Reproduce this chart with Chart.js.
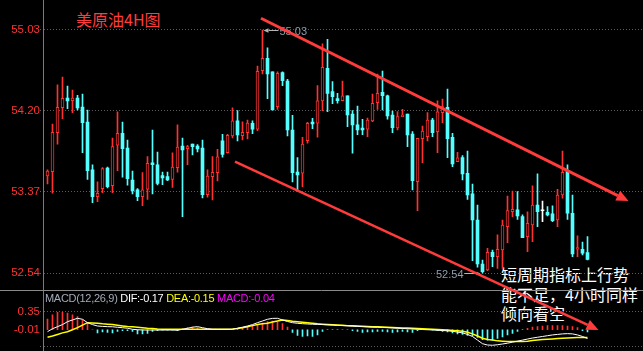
<!DOCTYPE html>
<html>
<head>
<meta charset="utf-8">
<script src="https://cdn.jsdelivr.net/npm/chart.js@4.4.1/dist/chart.umd.min.js"></script>
<style>
  html, body { margin: 0; padding: 0; background: #000; }
  #wrap { position: relative; width: 643px; height: 351px; overflow: hidden; background: #000; }
  #chart { position: absolute; left: 0; top: 0; z-index: 2; }
  .txt { position: absolute; z-index: 1; white-space: nowrap; }
  #title { left: 76px; top: 11px; font: 16px/16px "Noto Sans CJK SC", sans-serif; color: #ff3c3c; }
  #note { left: 501px; top: 265px; font: 16px/19.5px "Noto Sans CJK SC", sans-serif; color: #fff; }
  #macdHead { left: 45px; top: 292.5px; font: 11px/11px "Liberation Sans", Arial, sans-serif; letter-spacing: -0.3px; z-index: 3; }
</style>
</head>
<body>
<div id="wrap">
  <div class="txt" id="title">美原油4H图</div>
  <div class="txt" id="note">短周期指标上行势<br>能不足，4小时同样<br>倾向看空</div>
  <div class="txt" id="macdHead"></div>
  <canvas id="chart" width="643" height="351"></canvas>
</div>
<script>
// 4H candles (oldest first)
const opens = [53.535, 53.578, 53.978, 54.234, 54.333, 54.306, 54.333, 54.241, 54.087, 53.596,
  53.322, 53.404, 53.616, 53.435, 53.849, 53.972, 53.821, 53.493, 53.391, 53.322,
  53.398, 53.67, 53.647, 53.537, 53.527, 53.5, 53.619, 53.841, 53.814, 53.862,
  53.841, 53.821, 53.343, 53.527, 53.568, 53.893, 53.773, 53.944, 54.098, 53.947,
  53.978, 54.074, 54.013, 54.613, 54.74, 54.6, 54.244, 54.593, 54.507, 54.005,
  53.575, 53.562, 53.896, 54.087, 54.074, 54.303, 54.638, 54.398, 54.326, 54.306,
  54.354, 54.169, 54.057, 54.026, 54.013, 54.098, 54.285, 54.392, 54.354, 54.159,
  54.026, 54.142, 54.169, 53.964, 53.476, 53.916, 53.937, 54.108, 53.988, 54.183,
  54.238, 53.931, 53.681, 53.722, 53.562, 53.35, 53.083, 52.632, 52.571, 52.752,
  52.707, 52.776, 53.015, 53.168, 53.186, 53.117, 52.912, 53.032, 53.237, 53.178,
  53.162, 53.145, 53.083, 53.339, 53.588, 53.152, 52.783, 52.783, 52.748];
const highs = [53.596, 54.067, 54.467, 54.548, 54.456, 54.415, 54.361, 54.374, 54.21, 53.647,
  53.473, 53.619, 53.626, 53.923, 54.19, 54.087, 53.903, 53.585, 53.404, 53.568,
  53.732, 54.005, 53.78, 53.575, 53.575, 53.77, 54.057, 53.923, 53.849, 53.862,
  53.855, 53.903, 53.596, 53.732, 53.808, 53.96, 53.961, 54.231, 54.203, 54.09,
  54.108, 54.098, 54.661, 55.03, 54.846, 54.6, 54.6, 54.6, 54.525, 54.156,
  53.722, 53.931, 54.084, 54.125, 54.459, 54.887, 54.935, 54.5, 54.381, 54.507,
  54.354, 54.203, 54.251, 54.115, 54.128, 54.374, 54.579, 54.61, 54.364, 54.2,
  54.193, 54.217, 54.169, 53.988, 53.92, 54.046, 54.183, 54.125, 54.303, 54.323,
  54.425, 53.971, 53.777, 53.742, 53.79, 53.452, 53.237, 52.673, 52.793, 52.776,
  52.93, 53.083, 53.329, 53.38, 53.373, 53.135, 53.168, 53.432, 53.555, 53.278,
  53.22, 53.227, 53.398, 53.79, 53.647, 53.339, 52.92, 52.858, 52.912];
const lows = [53.452, 53.357, 53.859, 54.121, 54.224, 54.183, 54.21, 53.773, 53.5, 53.26,
  53.271, 53.363, 53.411, 53.363, 53.588, 53.521, 53.439, 53.35, 53.281, 53.23,
  53.295, 53.35, 53.442, 53.445, 53.486, 53.418, 53.572, 53.117, 53.65, 53.749,
  53.78, 53.309, 53.316, 53.288, 53.483, 53.726, 53.767, 53.923, 53.893, 53.903,
  53.913, 53.967, 53.998, 54.579, 54.326, 54.21, 54.217, 54.459, 53.944, 53.473,
  53.391, 53.424, 53.869, 54.019, 53.931, 54.203, 54.193, 54.275, 54.279, 54.306,
  54.039, 53.767, 53.957, 53.957, 53.937, 54.09, 54.217, 54.21, 54.115, 53.978,
  54.005, 54.142, 53.834, 53.391, 53.179, 53.67, 53.893, 53.937, 53.773, 54.08,
  53.722, 53.63, 53.681, 53.493, 53.295, 52.666, 52.599, 52.54, 52.564, 52.605,
  52.588, 52.588, 52.851, 53.117, 53.09, 52.902, 52.758, 52.861, 53.015, 53.066,
  53.124, 53.066, 53.015, 53.306, 53.09, 52.707, 52.707, 52.725, 52.673];
const closes = [53.585, 53.98, 54.238, 54.33, 54.303, 54.333, 54.231, 54.08, 53.588, 53.322,
  53.357, 53.609, 53.424, 53.834, 53.972, 53.814, 53.506, 53.383, 53.322, 53.391,
  53.664, 53.65, 53.459, 53.514, 53.493, 53.626, 53.831, 53.8, 53.834, 53.834,
  53.81, 53.343, 53.534, 53.572, 53.729, 53.756, 53.951, 54.098, 53.954, 53.982,
  54.077, 54.013, 54.607, 54.74, 54.579, 54.21, 54.586, 54.511, 54.005, 53.568,
  53.544, 53.862, 54.074, 54.067, 54.303, 54.648, 54.381, 54.347, 54.306, 54.354,
  54.159, 54.057, 54.005, 54.005, 54.108, 54.279, 54.381, 54.357, 54.149, 54.029,
  54.142, 54.159, 53.954, 53.486, 53.92, 53.995, 54.108, 53.978, 54.19, 54.244,
  53.916, 53.657, 53.719, 53.555, 53.339, 53.083, 52.632, 52.554, 52.752, 52.707,
  52.783, 53.032, 53.179, 53.193, 53.124, 52.902, 53.05, 53.237, 53.168, 53.178,
  53.134, 53.076, 53.339, 53.572, 53.152, 52.735, 52.8, 52.742, 52.68];

// MACD(12,26,9) panel
const difValues = [-0.037, 0.02, 0.06, 0.10, 0.156, 0.19, 0.222, 0.203, 0.137, 0.10,
  0.073, 0.065, 0.06, 0.058, 0.048, 0.04, 0.03, 0.009, 0.0, -0.004,
  -0.005, -0.005, -0.005, -0.005, -0.005, -0.005, -0.01, 0.01, 0.029, 0.05,
  0.06, 0.04, 0.021, 0.01, 0.009, 0.009, 0.009, 0.009, 0.03, 0.05,
  0.073, 0.10, 0.137, 0.17, 0.203, 0.22, 0.222, 0.189, 0.16, 0.137,
  0.125, 0.118, 0.112, 0.107, 0.104, 0.10, 0.095, 0.09, 0.085, 0.08,
  0.075, 0.07, 0.065, 0.06, 0.055, 0.05, 0.048, 0.045, 0.04, 0.035,
  0.03, 0.025, 0.02, 0.015, 0.01, 0.005, 0.0, -0.004, -0.01, -0.015,
  -0.02, -0.03, -0.045, -0.06, -0.09, -0.13, -0.2, -0.27, -0.295, -0.3,
  -0.29, -0.275, -0.26, -0.24, -0.22, -0.2, -0.18, -0.16, -0.145, -0.13,
  -0.115, -0.1, -0.09, -0.08, -0.075, -0.08, -0.1, -0.13, -0.17];
const deaValues = [-0.145, -0.12, -0.09, -0.06, -0.037, 0.0, 0.04, 0.09, 0.137, 0.13,
  0.125, 0.115, 0.108, 0.10, 0.087, 0.075, 0.065, 0.06, 0.05, 0.04,
  0.029, 0.022, 0.015, 0.012, 0.009, 0.009, 0.009, 0.009, 0.009, 0.009,
  0.009, 0.009, 0.009, 0.009, 0.009, 0.009, 0.009, 0.015, 0.025, 0.04,
  0.06, 0.08, 0.10, 0.115, 0.125, 0.15, 0.17, 0.189, 0.18, 0.165,
  0.155, 0.145, 0.135, 0.125, 0.115, 0.108, 0.102, 0.095, 0.09, 0.085,
  0.08, 0.077, 0.073, 0.068, 0.064, 0.06, 0.056, 0.053, 0.05, 0.045,
  0.04, 0.036, 0.032, 0.028, 0.023, 0.018, 0.013, 0.008, 0.003, -0.002,
  -0.006, -0.012, -0.02, -0.03, -0.05, -0.08, -0.12, -0.165, -0.19, -0.2,
  -0.215, -0.222, -0.227, -0.225, -0.225, -0.225, -0.22, -0.21, -0.2, -0.19,
  -0.185, -0.178, -0.17, -0.165, -0.16, -0.155, -0.15, -0.15, -0.15];
const macdBars = [0.207, 0.29, 0.335, 0.335, 0.323, 0.29, 0.257, 0.193, 0.141, 0.0,
  -0.06, -0.04, -0.05, -0.06, -0.03, -0.02, -0.02, -0.03, -0.08, -0.08,
  -0.07, -0.03, -0.02, -0.01, -0.01, -0.01, -0.02, 0.02, 0.04, 0.05,
  0.04, 0.02, 0.01, 0.005, 0.005, 0.005, 0.005, 0.01, 0.02, 0.03,
  0.05, 0.08, 0.10, 0.13, 0.16, 0.17, 0.15, 0.12, 0.05, -0.05,
  -0.11, -0.13, -0.12, -0.13, -0.10, -0.03, 0.01, 0.01, 0.01, 0.005,
  0.005, -0.02, -0.03, -0.05, -0.04, -0.04, -0.03, -0.03, -0.04, -0.05,
  -0.04, -0.03, -0.04, -0.05, -0.02, 0.005, 0.005, -0.01, -0.02, -0.03,
  -0.04, -0.06, -0.08, -0.09, -0.11, -0.12, -0.15, -0.19, -0.2, -0.2,
  -0.17, -0.14, -0.1, -0.07, -0.03, 0.01, 0.03, 0.05, 0.06, 0.07,
  0.08, 0.08, 0.08, 0.08, 0.07, 0.06, 0.04, -0.02, -0.04];

const priceTicks = [55.03, 54.20, 53.37, 52.54];
const macdTicks = [0.35, -0.01, -0.33];
const macdLabelTicks = [0.35, -0.01];

// drawn trend channel: [candle index, price] for start and end (arrow tip)
const upperTrend = [[42.7, 55.15], [116.2, 53.278]];
const lowerTrend = [[37.5, 53.68], [110.2, 51.956]];

const UP = '#ff3232';
const DOWN = '#54ffff';
const FLAT = '#ffffff';
const GRID = '#5c5c5c';
const AXIS = '#7a7a7a';

const idx = opens.map((_, i) => i);
const candleColor = i => closes[i] > opens[i] ? UP : (closes[i] < opens[i] ? DOWN : FLAT);
const last = idx.length - 1;

// MACD header line
document.getElementById('macdHead').innerHTML =
  '<span style="color:#a3abba">MACD(12,26,9)</span> ' +
  '<span style="color:#ffffff">DIF:' + difValues[last].toFixed(2) + '</span> ' +
  '<span style="color:#ffff00">DEA:' + deaValues[last].toFixed(2) + '</span> ' +
  '<span style="color:#ff00ff">MACD:' + macdBars[last].toFixed(2) + '</span>';

function arrowLine(ctx, x1, y1, x2, y2, width, head) {
  const ang = Math.atan2(y2 - y1, x2 - x1);
  const bx = x2 - head * Math.cos(ang);
  const by = y2 - head * Math.sin(ang);
  const half = head * 0.45;
  ctx.lineWidth = width;
  ctx.beginPath();
  ctx.moveTo(x1, y1);
  ctx.lineTo(bx, by);
  ctx.stroke();
  ctx.beginPath();
  ctx.moveTo(x2, y2);
  ctx.lineTo(bx + half * Math.sin(ang), by - half * Math.cos(ang));
  ctx.lineTo(bx - half * Math.sin(ang), by + half * Math.cos(ang));
  ctx.closePath();
  ctx.fill();
}

const overlayPlugin = {
  id: 'overlay',
  afterDatasetsDraw(chart) {
    const { ctx } = chart;
    const x = chart.scales.x;
    const y = chart.scales.y;
    ctx.save();

    // panel separator
    const sepY = Math.round(y.bottom) + 0.5;
    ctx.strokeStyle = '#8a8a8a';
    ctx.lineWidth = 1;
    ctx.beginPath();
    ctx.moveTo(0, sepY);
    ctx.lineTo(chart.width, sepY);
    ctx.stroke();

    // highest high / lowest low markers
    const hi = idx.reduce((a, b) => highs[b] > highs[a] ? b : a, 0);
    const lo = idx.reduce((a, b) => lows[b] < lows[a] ? b : a, 0);
    ctx.strokeStyle = '#b4b4b4';
    ctx.fillStyle = '#b4b4b4';
    const hx = x.getPixelForValue(hi), hy = Math.round(y.getPixelForValue(highs[hi])) + 0.5;
    arrowLine(ctx, hx + 16, hy, hx + 1, hy, 1, 5);
    const lx = x.getPixelForValue(lo), ly = Math.round(y.getPixelForValue(lows[lo])) + 0.5;
    arrowLine(ctx, lx - 18, ly, lx - 2, ly, 1, 4);
    ctx.font = '11px "Liberation Sans", Arial, sans-serif';
    ctx.fillStyle = '#8f9cab';
    ctx.textBaseline = 'middle';
    ctx.textAlign = 'left';
    ctx.fillText(highs[hi].toFixed(2), hx + 17, hy + 1);
    ctx.textAlign = 'right';
    ctx.fillText(lows[lo].toFixed(2), lx - 19, ly + 1);

    // trend channel arrows
    ctx.strokeStyle = '#ff3b3b';
    ctx.fillStyle = '#ff3b3b';
    ctx.lineCap = 'butt';
    arrowLine(ctx,
      x.getPixelForValue(upperTrend[0][0]), y.getPixelForValue(upperTrend[0][1]),
      x.getPixelForValue(upperTrend[1][0]), y.getPixelForValue(upperTrend[1][1]), 3, 12);
    arrowLine(ctx,
      x.getPixelForValue(lowerTrend[0][0]), y.getPixelForValue(lowerTrend[0][1]),
      x.getPixelForValue(lowerTrend[1][0]), y.getPixelForValue(lowerTrend[1][1]), 2.5, 12);

    ctx.restore();
  }
};

function fixWidth(axis) {
  axis.width = 43;
  axis.paddingTop = 0;
  axis.paddingBottom = 0;
}

const tickFont = { family: '"Liberation Sans", Arial, sans-serif', size: 11.5 };

new Chart(document.getElementById('chart'), {
  type: 'bar',
  data: {
    datasets: [
      {
        label: 'DIF',
        type: 'line',
        yAxisID: 'm',
        data: idx.map(i => ({ x: i, y: difValues[i] })),
        borderColor: '#ffffff',
        borderWidth: 1,
        pointRadius: 0,
        tension: 0,
        order: 0
      },
      {
        label: 'DEA',
        type: 'line',
        yAxisID: 'm',
        data: idx.map(i => ({ x: i, y: deaValues[i] })),
        borderColor: '#ffff00',
        borderWidth: 1.5,
        pointRadius: 0,
        tension: 0,
        order: 1
      },
      {
        label: 'body',
        yAxisID: 'y',
        data: idx.map(i => ({ x: i, y: [opens[i], closes[i]] })),
        backgroundColor: idx.map(i => closes[i] > opens[i] ? '#000000' : candleColor(i)),
        borderColor: idx.map(candleColor),
        borderWidth: idx.map(i => closes[i] > opens[i] ? 1 : 0),
        borderSkipped: false,
        barThickness: 3,
        minBarLength: 1,
        grouped: false,
        order: 2
      },
      {
        label: 'wick',
        yAxisID: 'y',
        data: idx.map(i => ({ x: i, y: [lows[i], highs[i]] })),
        backgroundColor: idx.map(candleColor),
        barThickness: 1,
        grouped: false,
        order: 3
      },
      {
        label: 'MACD',
        yAxisID: 'm',
        data: idx.map(i => ({ x: i, y: macdBars[i] })),
        backgroundColor: idx.map(i => macdBars[i] >= 0 ? UP : DOWN),
        barThickness: 1,
        grouped: false,
        order: 4
      }
    ]
  },
  options: {
    responsive: false,
    animation: false,
    devicePixelRatio: 1,
    events: [],
    layout: { padding: 0 },
    plugins: { legend: { display: false }, tooltip: { enabled: false } },
    scales: {
      x: {
        type: 'linear',
        display: false,
        offset: false,
        min: -0.9,
        max: 119.1
      },
      m: {
        type: 'linear',
        position: 'left',
        stack: 'panes',
        stackWeight: 61.5,
        min: -0.411,
        max: 0.779,
        afterBuildTicks: axis => { axis.ticks = macdTicks.map(v => ({ value: v })); },
        afterFit: fixWidth,
        ticks: {
          color: UP,
          font: tickFont,
          padding: 0,
          autoSkip: false,
          callback: v => macdLabelTicks.includes(v) ? v.toFixed(2) : ''
        },
        grid: {
          color: ctx => ctx.tick && macdLabelTicks.includes(ctx.tick.value) && ctx.tick.value < 0 ? 'rgba(0,0,0,0)' : GRID,
          tickLength: 3,
          tickBorderDash: [1, 2]
        },
        border: { color: AXIS, dash: [1, 2] }
      },
      y: {
        type: 'linear',
        position: 'left',
        stack: 'panes',
        stackWeight: 289.5,
        min: 52.371,
        max: 55.337,
        afterBuildTicks: axis => { axis.ticks = priceTicks.map(v => ({ value: v })); },
        afterFit: fixWidth,
        ticks: {
          color: UP,
          font: tickFont,
          padding: 0,
          autoSkip: false,
          callback: v => v.toFixed(2)
        },
        grid: {
          color: GRID,
          tickLength: 3,
          tickBorderDash: [1, 2]
        },
        border: { color: AXIS, dash: [1, 2] }
      }
    }
  },
  plugins: [overlayPlugin]
});
</script>
</body>
</html>
